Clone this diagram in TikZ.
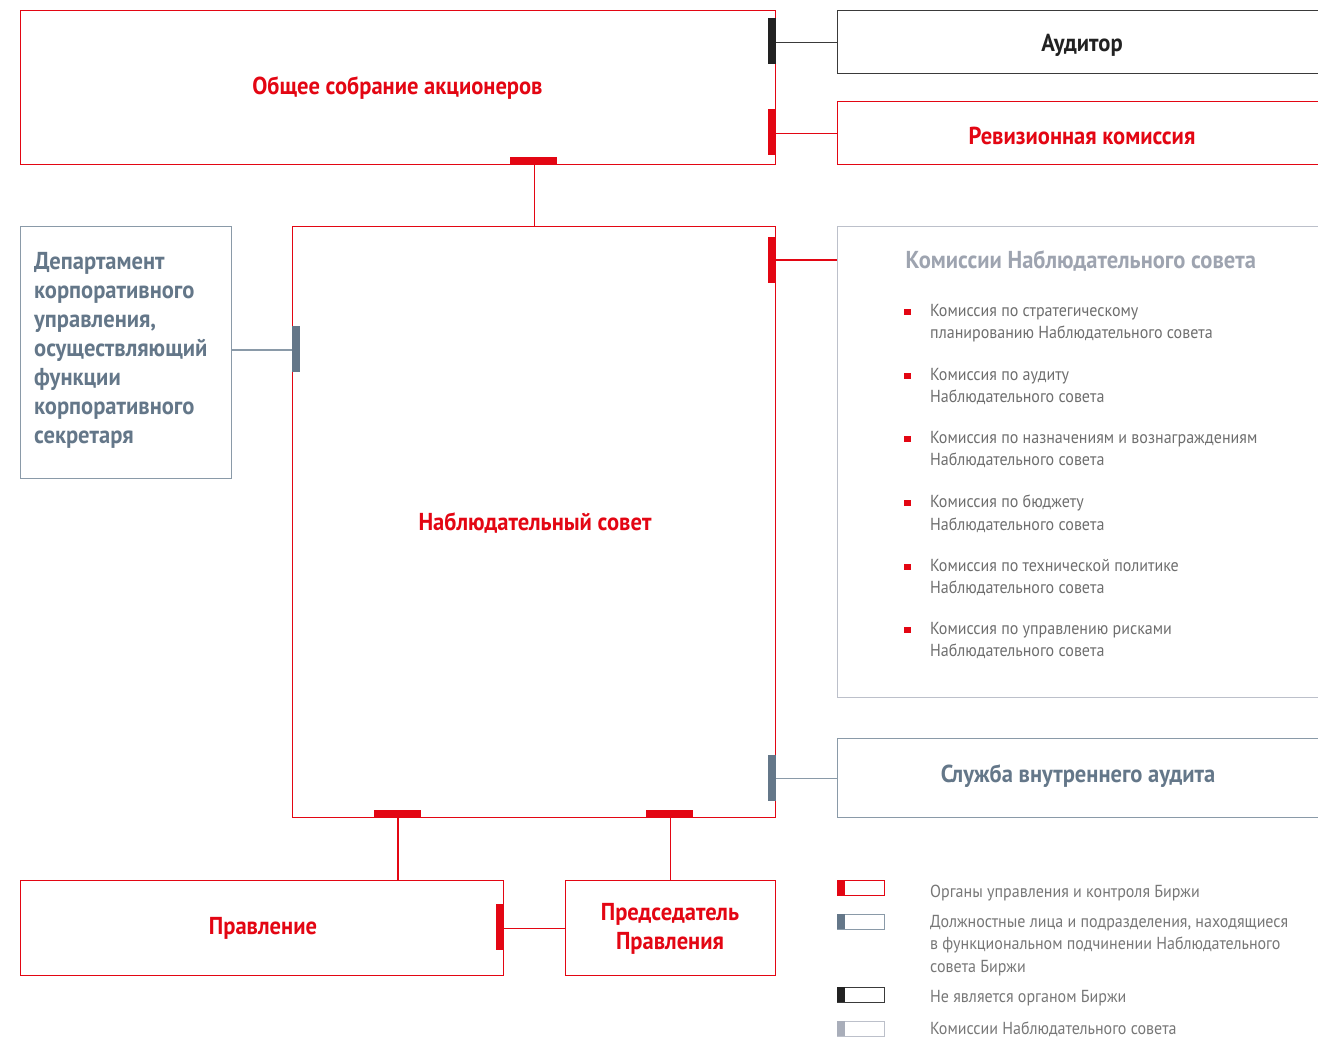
\documentclass[tikz,border=0pt]{standalone}
\usepackage{fontspec}
\setmainfont{PT Sans}[FakeStretch=0.92]
\definecolor{brand}{HTML}{E30613}
\definecolor{slate}{HTML}{647789}
\definecolor{slateline}{HTML}{8A9AA8}
\definecolor{combord}{HTML}{BCC0CA}
\definecolor{comhead}{HTML}{9EA4B0}
\definecolor{listtxt}{HTML}{6E6E6E}
\definecolor{legtxt}{HTML}{777777}
\definecolor{audline}{HTML}{3A3A3A}
\definecolor{audtxt}{HTML}{222222}
\definecolor{combar}{HTML}{A9AEBA}
\tikzset{
  box/.style={draw, line width=1.2pt, anchor=north west, inner sep=0pt},
  redbox/.style={box, draw=brand},
  slatebox/.style={box, draw=slateline},
  graybox/.style={box, draw=combord},
  audbox/.style={box, draw=audline},
  redline/.style={draw=brand, line width=1.2pt},
  slateconn/.style={draw=slateline, line width=1.2pt},
  blackconn/.style={draw=audline, line width=1.2pt},
  title/.style={font=\bfseries\fontsize{24.5}{29}\selectfont, align=center},
  listitem/.style={font=\fontsize{17.4}{22.5}\selectfont, text=listtxt, align=left, anchor=north west, inner sep=0pt},
  legitem/.style={font=\fontsize{17.4}{22.5}\selectfont, text=legtxt, align=left, anchor=west, inner sep=0pt},
  bullet/.style={fill=brand, minimum size=6.5pt, inner sep=0pt},
  legbox/.style={draw, line width=1.4pt, minimum width=47pt, minimum height=15pt, anchor=north west, inner sep=0pt},
}
\begin{document}
\begin{tikzpicture}[x=1pt,y=-1pt]
\useasboundingbox (0,0) rectangle (1318,1039);
\clip (0,0) rectangle (1318,1039);
% boxes
\node[redbox, minimum width=755pt, minimum height=154pt] (gsm) at (20,10) {};
\node[title, text=brand] at (397.5,88) {Общее собрание акционеров};
\node[audbox, minimum width=500pt, minimum height=63pt] (aud) at (837,10) {};
\node[title, text=audtxt] at (1082,45) {Аудитор};
\node[redbox, minimum width=500pt, minimum height=63pt] (rev) at (837,101) {};
\node[title, text=brand] at (1082,136) {Ревизионная комиссия};
\node[redbox, minimum width=483pt, minimum height=591pt] (ns) at (292,226) {};
\node[title, text=brand] at (535,523) {Наблюдательный совет};
\node[slatebox, minimum width=211pt, minimum height=252pt] (dep) at (20,226) {};
\node[font=\bfseries\fontsize{24.5}{29}\selectfont, text=slate, align=left, anchor=north west, inner sep=0pt] at (34,252)
  {Департамент\\корпоративного\\управления,\\осуществляющий\\функции\\корпоративного\\секретаря};
\node[graybox, minimum width=500pt, minimum height=471pt] (com) at (837,226) {};
\node[title, text=comhead, anchor=west] at (902,261) {Комиссии Наблюдательного совета};
\node[slatebox, minimum width=500pt, minimum height=79pt] (sia) at (837,738) {};
\node[title, text=slate] at (1078,776) {Служба внутреннего аудита};
\node[redbox, minimum width=483pt, minimum height=95pt] (prav) at (20,880) {};
\node[title, text=brand] at (263,928) {Правление};
\node[redbox, minimum width=210pt, minimum height=95pt] (pred) at (565,880) {};
\node[title, text=brand] at (670,929) {Председатель\\Правления};
% commission list
\foreach \y/\t in {304/{Комиссия по стратегическому\\планированию Наблюдательного совета},
                   368/{Комиссия по аудиту\\Наблюдательного совета},
                   431/{Комиссия по назначениям и вознаграждениям\\Наблюдательного совета},
                   495/{Комиссия по бюджету\\Наблюдательного совета},
                   559/{Комиссия по технической политике\\Наблюдательного совета},
                   622/{Комиссия по управлению рисками\\Наблюдательного совета}}{
  \node[listitem] at (930,\y) {\t};
  \node[bullet] at (907.5,\y+8) {};
}
% connectors
\coordinate (nsr) at (775,260);
\coordinate (prv) at (398,817);
\draw[redline] (gsm.south -| ns.north) -- (ns.north);
\draw[blackconn] (aud.west -| gsm.east) -- (aud.west);
\draw[redline] (rev.west -| gsm.east) -- (rev.west);
\draw[redline] (nsr) -- (nsr -| com.west);
\draw[slateconn] (sia.west -| ns.east) -- (sia.west);
\draw[slateconn] (dep.east |- 0,350) -- (ns.west |- 0,350);
\draw[redline] (prv) -- (prv |- prav.north);
\draw[redline] (pred.north |- ns.south) -- (pred.north);
\draw[redline] (prav.east) -- (pred.west);
% attachment bars
\fill[audtxt] (768,18) rectangle (775.6,64);
\fill[brand] (768,109) rectangle (775.6,155);
\fill[brand] (510,157) rectangle (557,164.6);
\fill[brand] (768,237) rectangle (775.6,283);
\fill[slate] (768,755) rectangle (775.6,801);
\fill[slate] (292,326) rectangle (299.6,372);
\fill[brand] (374,810) rectangle (421,817.6);
\fill[brand] (646,810) rectangle (693,817.6);
\fill[brand] (496,904) rectangle (503.6,950);
% legend
\node[legbox, draw=brand] (l1) at (837,880) {};
\fill[brand] (837,880) rectangle (845,895);
\node[legitem] at (930,893) {Органы управления и контроля Биржи};
\node[legitem, anchor=north west] at (930,915) {Должностные лица и подразделения, находящиеся\\в функциональном подчинении Наблюдательного\\совета Биржи};
\node[legbox, draw=slateline] (l2) at (837,914) {};
\fill[slate] (837,914) rectangle (845,929);
\node[legbox, draw=audline] (l3) at (837,987) {};
\fill[audtxt] (837,987) rectangle (845,1002);
\node[legitem] at (930,998) {Не является органом Биржи};
\node[legbox, draw=combord] (l4) at (837,1021) {};
\fill[combar] (837,1021) rectangle (845,1036);
\node[legitem] at (930,1029) {Комиссии Наблюдательного совета};
\end{tikzpicture}
\end{document}
